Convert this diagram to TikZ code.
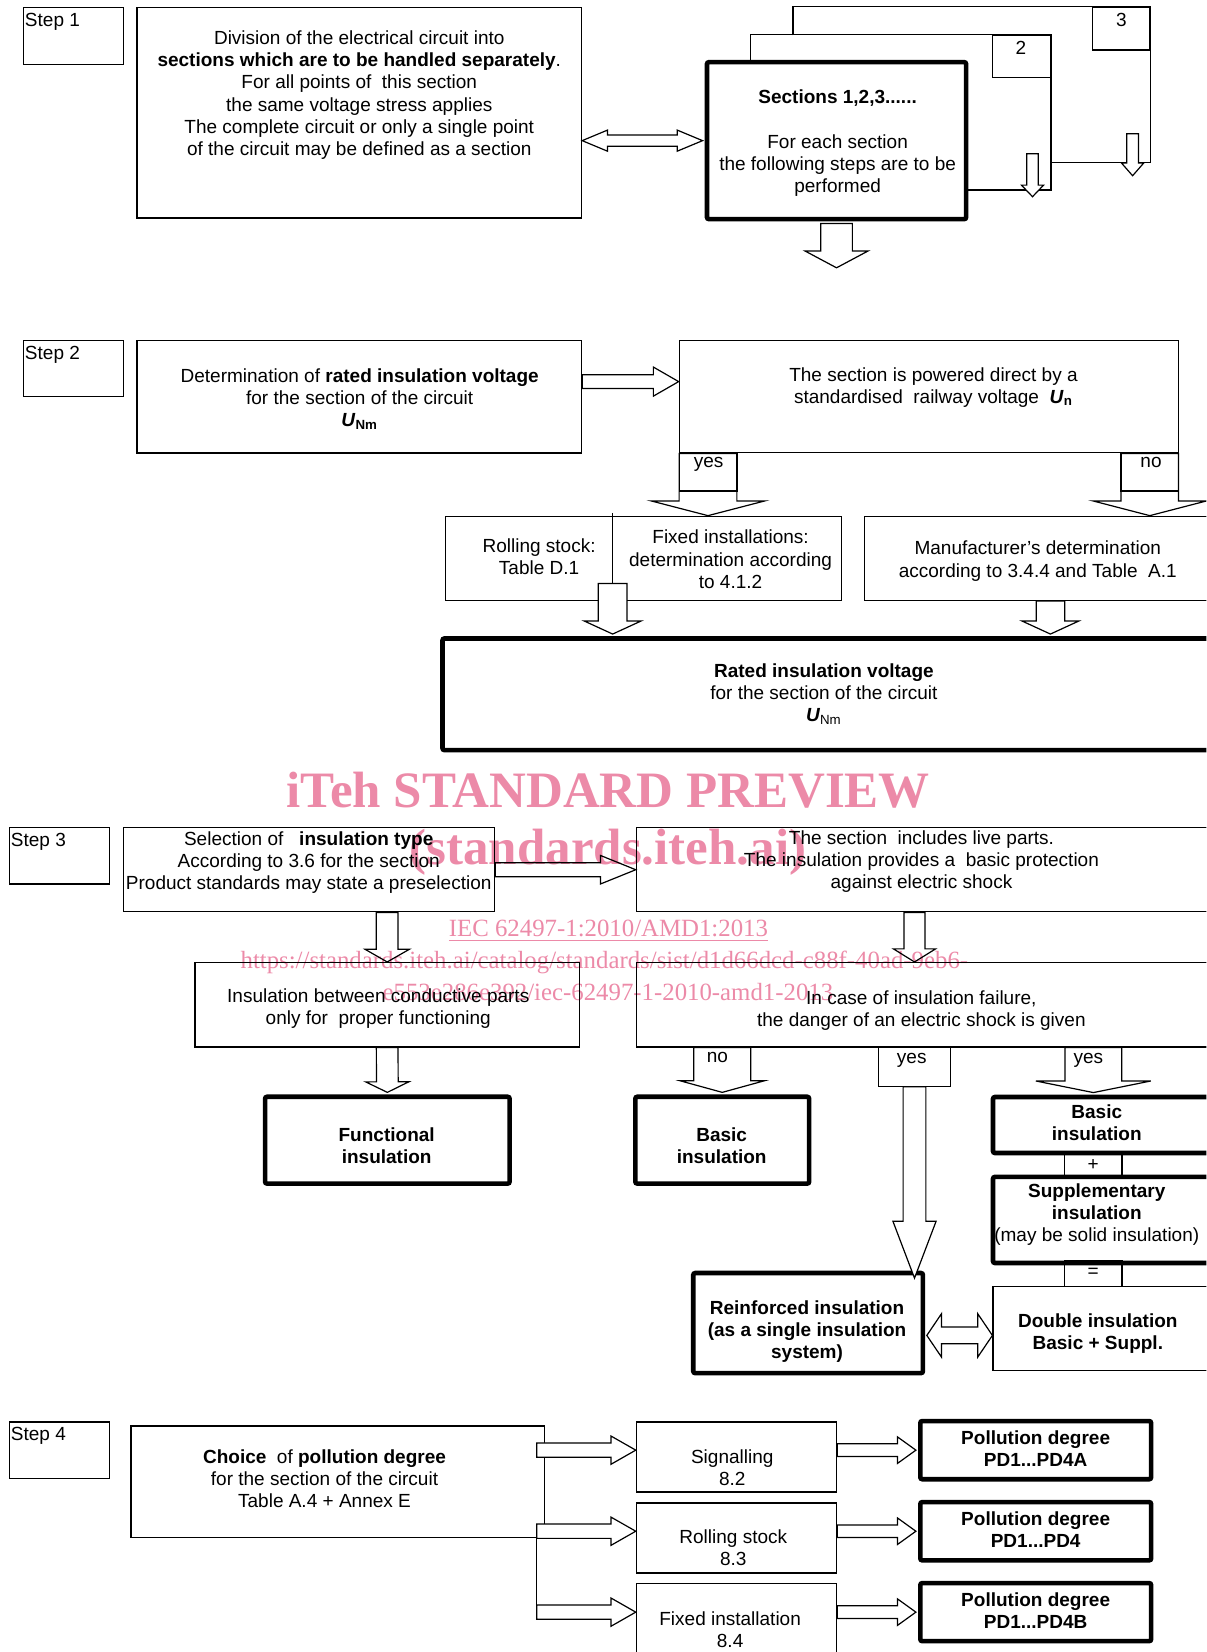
\documentclass[tikz,border=0pt]{standalone}
\usepackage{fontspec}
\setmainfont{Liberation Sans}
\newfontfamily\wmserif{Liberation Serif}
\usetikzlibrary{calc,fit}
\definecolor{wmpink}{RGB}{236,138,168}
\newcommand{\dfont}{\fontsize{9.5}{11.06}\selectfont}

%% hollow block arrow: tail, tip, shaft half width, head half width, head length
\newcommand{\fatarrow}[5]{%
  \pgfmathsetlengthmacro\fasw{#3*0.52665}%
  \pgfmathsetlengthmacro\fahw{#4*0.52665}%
  \pgfmathsetlengthmacro\fahl{#5*0.52665}%
  \coordinate (fa-a) at #1;
  \coordinate (fa-b) at #2;
  \coordinate (fa-n) at ($(fa-b)!\fahl!(fa-a)$);
  \draw[fat] ($(fa-a)!\fasw!90:(fa-b)$) -- ($(fa-n)!\fasw!90:(fa-b)$)
    -- ($(fa-n)!\fahw!90:(fa-b)$) -- (fa-b)
    -- ($(fa-n)!\fahw!-90:(fa-b)$) -- ($(fa-n)!\fasw!-90:(fa-b)$)
    -- ($(fa-a)!\fasw!-90:(fa-b)$) -- cycle;}
%% same with a head at both ends
\newcommand{\fatdarrow}[5]{%
  \pgfmathsetlengthmacro\fasw{#3*0.52665}%
  \pgfmathsetlengthmacro\fahw{#4*0.52665}%
  \pgfmathsetlengthmacro\fahl{#5*0.52665}%
  \coordinate (fa-a) at #1;
  \coordinate (fa-b) at #2;
  \coordinate (fa-n) at ($(fa-b)!\fahl!(fa-a)$);
  \coordinate (fa-m) at ($(fa-a)!\fahl!(fa-b)$);
  \draw[fat] (fa-a) -- ($(fa-m)!\fahw!90:(fa-b)$) -- ($(fa-m)!\fasw!90:(fa-b)$)
    -- ($(fa-n)!\fasw!90:(fa-b)$) -- ($(fa-n)!\fahw!90:(fa-b)$) -- (fa-b)
    -- ($(fa-n)!\fahw!-90:(fa-b)$) -- ($(fa-n)!\fasw!-90:(fa-b)$)
    -- ($(fa-m)!\fasw!-90:(fa-b)$) -- ($(fa-m)!\fahw!-90:(fa-b)$) -- cycle;}

\tikzset{
  ln/.style={line width=0.6pt},
  box/.style={draw, line width=0.6pt, inner sep=0pt},
  thickbox/.style={draw, line width=2.3pt, inner sep=0pt, rounded corners=1pt},
  txt/.style={align=center, inner sep=0pt, font=\dfont},
  btxt/.style={txt, font=\dfont\bfseries},
  steplbl/.style={anchor=north west, inner xsep=1pt, inner ysep=2.8pt, font=\dfont},
  fat/.style={draw, fill=white, line width=0.6pt, line join=miter},
  wm/.style={text=wmpink, inner sep=0pt, anchor=base, font=\wmserif\bfseries\fontsize{25.5}{30}\selectfont},
  wmsm/.style={text=wmpink, inner sep=0pt, anchor=base, font=\wmserif\fontsize{12.4}{14}\selectfont}
}

\begin{document}
\begin{tikzpicture}[x=0.52665pt, y=-0.52665pt]
  \useasboundingbox (0,0) rectangle (1145,1568);
  \clip (0,0) rectangle (1145,1568);

  %% Step 1
  \node[box, fit={(22,7) (117,61)}, label={[steplbl]north west:Step 1}] (s1) {};
  \node[box, fit={(130,7) (552,207)}] (div) {};
  \node[txt] (divt) at (341,90.2) {Division of the electrical circuit into\\
    \textbf{sections which are to be handled separately}.\\
    For all points of~ this section\\
    the same voltage stress applies\\
    The complete circuit or only a single point\\
    of the circuit may be defined as a section};
  %% stacked sections
  \node[box, fit={(1036.8,7) (1091.6,47.5)}] (lbl3) {};
  \node[box, fit={(942,33.5) (997,73.7)}] (lbl2) {};
  \node[thickbox, fit={(671,59) (917,208)}] (sec) {};
  \draw[ln] (752.7,33.5) |- (lbl3.north east) |- (997,154);
  \draw[ln] (sec.north -| 712.5,0) |- (lbl2.north east) |- (sec.east |- 0,180.4);
  \node[txt] (n3) at (1064.3,19) {3};
  \node[txt] (n2) at (969,45.9) {2};
  \node[txt] (sect) at (795,136) {\textbf{Sections 1,2,3......}\\[11.06pt]
    For each section\\the following steps are to be\\performed};
  \fatdarrow{(div.east |- sec.west)}{($(sec.west)+(-2,0)$)}{5.4}{10}{24}
  \fatarrow{($(sec.south)+(0,2)$)}{($(sec.south)+(0,44)$)}{15}{30}{16}
  \coordinate (d2) at (980,146);
  \coordinate (d3) at (1075,127);
  \fatarrow{(d2)}{($(d2)+(0,40.7)$)}{5.5}{10.5}{11}
  \fatarrow{(d3)}{($(d3)+(0,39.8)$)}{5.5}{10.5}{12}

  %% Step 2
  \node[box, fit={(22,323.4) (117,376.6)}, label={[steplbl]north west:Step 2}] (s2) {};
  \node[box, fit={(130,323.4) (552,430)}] (det) {};
  \node[txt] (dett) at (341.4,379) {Determination of \textbf{rated insulation voltage}\\
    for the section of the circuit\\\textbf{\textit{U}\textsubscript{Nm}}};
  \node[box, fit={(644.7,323.5) (1118.5,429.8)}] (pow) {};
  \node[txt] (powt) at (886,368.2) {The section is powered direct by a\\
    standardised~ railway voltage~ \textbf{\textit{U}\textsubscript{n}}};
  \node[box, fit={(422.6,490) (798.6,569.8)}] (rf) {};
  \node[txt] (rolt) at (511.7,528) {Rolling stock:\\Table D.1};
  \node[txt] (fixt) at (693.4,530.8) {Fixed installations:\\determination according\\to 4.1.2};
  \node[box, fit={(820.8,490) (1160,570)}] (man) {};
  \node[txt] (mant) at (985,532.5) {Manufacturer’s determination\\according to 3.4.4 and Table~ A.1};
  \node[thickbox, fit={(420,606) (1160,712)}] (rated) {};
  \node[txt] (ratt) at (782,658.5) {\textbf{Rated insulation voltage}\\
    for the section of the circuit\\\textbf{\textit{U}}\textsubscript{Nm}};
  \coordinate (a5) at ($(det.east)+(0,-14.5)$);
  \fatarrow{(a5)}{(a5 -| pow.west)}{6.6}{13.8}{24}
  \fatarrow{(pow.south -| 672,0)}{(rf.north -| 672,0)}{27.4}{54}{14}
  \fatarrow{(pow.south -| 1091.3,0)}{(man.north -| 1091.3,0)}{27.25}{54}{14}
  \node[box, fit={(644.7,429.8) (699.5,466)}] (yes1) {};
  \node[box, fit={(1064,429.8) (1118.5,466)}] (no1) {};
  \node[txt] (yes1t) at (672.5,441) {yes};
  \node[txt] (no1t) at (1092.5,439) {no};
  \coordinate (rdiv) at (581.5,553.8);
  \draw[ln] (581.5,486.7) -- (rdiv);
  \fatarrow{(rdiv)}{($(rdiv |- rated.north)+(0,-2)$)}{13.6}{27}{12.4}
  \fatarrow{(man.south -| 997,0)}{($(rated.north -| 997,0)+(0,-2)$)}{13.5}{27}{12.4}

  %% Step 3
  \node[box, fit={(8.7,785.5) (104,839)}, label={[steplbl]north west:Step 3}] (s3) {};
  \node[box, fit={(117,785.5) (469.5,865.5)}] (sel) {};
  \node[txt] (selt) at (293,818.4) {Selection of~~ \textbf{insulation type}\\
    According to 3.6 for the section\\Product standards may state a preselection};
  \node[box, fit={(604,785.5) (1160,865.5)}] (live) {};
  \node[txt] (livet) at (874.6,818) {The section~ includes live parts.\\
    The insulation provides a~ basic protection\\against electric shock};
  \node[box, fit={(185,913.6) (550,993.7)}] (ins) {};
  \node[txt] (inst) at (359,956.9) {Insulation between conductive parts\\only for~ proper functioning};
  \node[box, fit={(604,913.6) (1160,993.7)}] (shock) {};
  \node[txt] (shockt) at (874.5,959.1) {In case of insulation failure,\\the danger of an electric shock is given};
  \node[thickbox, fit={(251.6,1041) (483.7,1123.4)}] (func) {};
  \node[btxt] (funct) at (367,1087.4) {Functional\\insulation};
  \node[thickbox, fit={(603,1041) (768,1123.4)}] (basic) {};
  \node[btxt] (basict) at (685,1087.4) {Basic\\insulation};
  \node[thickbox, fit={(942.5,1041.2) (1160,1094.4)}] (basicr) {};
  \node[btxt] (basicrt) at (1041,1065.7) {Basic\\insulation};
  \node[thickbox, fit={(942.5,1117) (1160,1198.8)}] (sup) {};
  \node[txt] (supt) at (1041,1153) {\textbf{Supplementary}\\\textbf{insulation}\\(may be solid insulation)};
  \node[box, fit={(942.5,1221) (1160,1300.6)}] (dbl) {};
  \node[btxt] (dblt) at (1042,1265.9) {Double insulation\\Basic + Suppl.};
  \node[box, fit={(1010.5,1094.4) (1065,1118.7)}] (pl) {};
  \node[box, fit={(1010.5,1196.2) (1065,1221)}] (eq) {};
  \node[txt] (plt) at (1037.5,1105.5) {+};
  \node[txt] (eqt) at (1037.5,1208.5) {=};
  \node[thickbox, fit={(658,1208.3) (876,1303.3)}] (reinf) {};
  \node[btxt] (reinft) at (766,1263.9) {Reinforced insulation\\(as a single insulation\\system)};
  \fatarrow{(sel.east)}{(sel.east -| live.west)}{6.7}{13.5}{33.4}
  \fatarrow{(ins.north |- sel.south)}{(ins.north)}{10.3}{21}{12}
  \fatarrow{(ins.south)}{($(func.north)+(0,-2)$)}{10.3}{20.5}{10}
  \fatarrow{(live.south -| 868,0)}{(shock.north -| 868,0)}{10}{20}{12.4}
  \fatarrow{(basic.north |- shock.south)}{($(basic.north)+(0,-2)$)}{27}{40}{11}
  \fatarrow{(pl.north |- shock.south)}{($(pl.north |- basicr.north)+(0,-2)$)}{27}{54.6}{11}
  \node[box, fit={(834,993.7) (902,1031)}] (yes2) {};
  \fatarrow{(yes2.south)}{($(yes2.south |- reinf.north)+(0,7)$)}{10.8}{20.5}{54}
  \node[txt] (no2) at (681,1004) {no};
  \node[txt] (yes2t) at (865.4,1006) {yes};
  \node[txt] (yes3) at (1033,1006) {yes};
  \coordinate (rd) at ($(reinf.east)+(1.5,11.7)$);
  \fatdarrow{(rd)}{(rd -| dbl.west)}{8}{20.7}{14}

  %% Step 4
  \node[box, fit={(8.7,1349.7) (104,1403.6)}, label={[steplbl]north west:Step 4}] (s4) {};
  \node[box, fit={(124.4,1353.5) (517,1459.5)}] (choice) {};
  \node[txt] (choicet) at (308,1403.5) {\textbf{Choice}~ of \textbf{pollution degree}\\
    for the section of the circuit\\Table A.4 + Annex E};
  \node[box, fit={(604,1349.7) (794,1416.2)}] (sig) {};
  \node[txt] (sigt) at (695,1392.8) {Signalling\\8.2};
  \node[box, fit={(604,1426.6) (794,1493)}] (roll) {};
  \node[txt] (rollt) at (696,1469.3) {Rolling stock\\8.3};
  \node[box, fit={(604,1503) (794,1590)}] (fix) {};
  \node[txt] (fixt2) at (693,1546.8) {Fixed installation\\8.4};
  \node[thickbox, fit={(873.5,1348.8) (1092.6,1404)}] (pd1) {};
  \node[btxt] (pd1t) at (983,1375) {Pollution degree\\PD1...PD4A};
  \node[thickbox, fit={(873.5,1425.7) (1092.6,1481)}] (pd2) {};
  \node[btxt] (pd2t) at (983,1451.5) {Pollution degree\\PD1...PD4};
  \node[thickbox, fit={(873.5,1502.6) (1092.6,1557.7)}] (pd3) {};
  \node[btxt] (pd3t) at (983,1528.5) {Pollution degree\\PD1...PD4B};
  \coordinate (cbr) at (509.5,1460);
  \foreach \p in {pd1,pd2,pd3}{
    \fatarrow{(cbr |- \p.west)}{(sig.west |- \p.west)}{6.8}{13.4}{23.5}
    \fatarrow{(sig.east |- \p.west)}{($(\p.west)+(-2,0)$)}{6}{12.6}{17.5}
  }
  \draw[ln] ($(cbr |- pd2.west)+(0,-6.8)$) -- ($(cbr |- pd3.west)+(0,6.8)$);

  %% watermark
  \begin{scope}[blend mode=multiply]
    \node[wm] (wm1) at (577.4,766) {iTeh STANDARD PREVIEW};
    \node[wm] (wm2) at (577,821) {(standards.iteh.ai)};
    \node[wmsm] (wm3) at (577.5,889.3) {\underline{IEC 62497-1:2010/AMD1:2013}};
    \node[wmsm] (wm4) at (573.6,919.3) {https://standards.iteh.ai/catalog/standards/sist/d1d66dcd-c88f-40ad-9eb6-};
    \node[wmsm] (wm5) at (577,949.4) {e553e286e392/iec-62497-1-2010-amd1-2013};
  \end{scope}
\end{tikzpicture}
\end{document}
